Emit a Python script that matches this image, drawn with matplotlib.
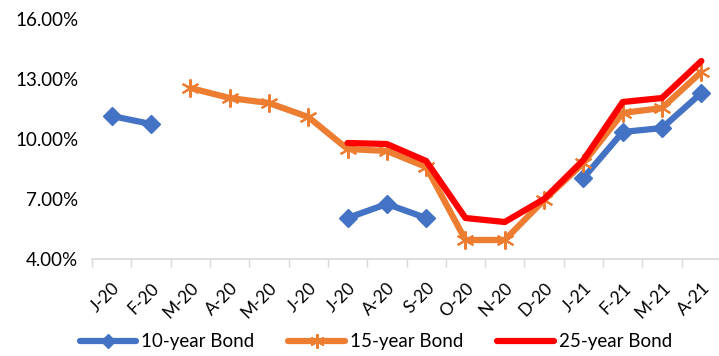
import numpy as np
import matplotlib.pyplot as plt
from matplotlib.ticker import FuncFormatter

plt.rcParams['font.family'] = ['Lato', 'DejaVu Sans']

# monthly yields, Jan 2020 - Apr 2021 (nan = no issue that month)
months = ['J-20', 'F-20', 'M-20', 'A-20', 'M-20', 'J-20', 'J-20', 'A-20',
          'S-20', 'O-20', 'N-20', 'D-20', 'J-21', 'F-21', 'M-21', 'A-21']
nan = np.nan
bond10 = [11.15, 10.75, nan, nan, nan, nan, 6.05, 6.75,
          6.05, nan, nan, nan, 8.05, 10.35, 10.55, 12.3]
bond15 = [nan, nan, 12.55, 12.05, 11.8, 11.1, 9.5, 9.4,
          8.6, 4.95, 4.95, 6.95, 8.8, 11.3, 11.55, 13.35]
bond25 = [nan, nan, nan, nan, nan, nan, 9.8, 9.75,
          8.9, 6.05, 5.85, 7.0, 8.95, 11.85, 12.05, 13.9]

fig = plt.figure(figsize=(7.19, 3.56), dpi=100)
ax = fig.add_axes([92/719, 97/356, 629/719, 240/356])

x = np.arange(len(months))
ax.plot(x, bond10, color='#4472C4', lw=4.5, marker='D', ms=9,
        solid_capstyle='round', label='10-year Bond')
ax.plot(x, bond15, color='#ED7D31', lw=4.5, marker=(6, 2, 0), ms=13, mew=1.5,
        solid_capstyle='round', label='15-year Bond')
ax.plot(x, bond25, color='#FF0000', lw=4.5, solid_capstyle='round',
        label='25-year Bond')

ax.set_xlim(-0.5, len(months) - 0.5)
ax.set_ylim(4, 16)
ax.set_yticks([4, 7, 10, 13, 16])
ax.yaxis.set_major_formatter(FuncFormatter(lambda v, p: '%.2f%%' % v))

# category boundaries carry the tick marks, labels sit at centres
ax.set_xticks(np.arange(len(months) + 1) - 0.5)
ax.set_xticklabels([])
ax.set_xticks(x, minor=True)
ax.set_xticklabels(months, minor=True, rotation=45, ha='right',
                   rotation_mode='anchor', fontsize=12.5)
ax.tick_params(axis='x', which='major', length=6, color='#D9D9D9', width=1)
ax.tick_params(axis='x', which='minor', length=0, pad=15)
ax.tick_params(axis='y', length=0, labelsize=13.5, pad=10)

for s in ['top', 'right', 'left']:
    ax.spines[s].set_visible(False)
ax.spines['bottom'].set_color('#D9D9D9')
ax.spines['bottom'].set_linewidth(1.2)
ax.spines['bottom'].set_zorder(0)

leg = fig.legend(loc='center', bbox_to_anchor=(0.523, 0.04), ncol=3, frameon=False,
                 fontsize=13.5, handlelength=3.0, columnspacing=1.8,
                 handletextpad=0.3, markerscale=0.8)

fig.savefig('out.png', dpi=100)
